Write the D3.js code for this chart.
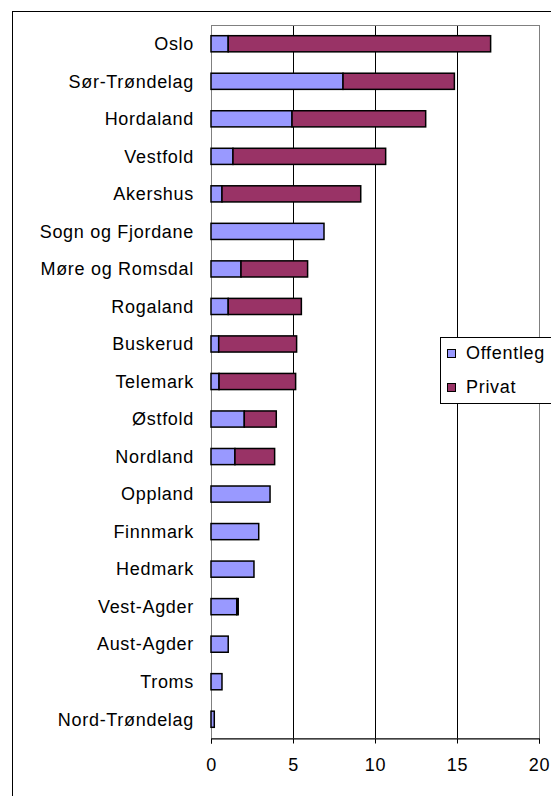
<!DOCTYPE html>
<html>
<head>
<meta charset="utf-8">
<script src="https://cdn.jsdelivr.net/npm/d3@7"></script>
<style>
    body { margin: 0; background: #fff; }
    svg { display: block; font-family: "Liberation Sans", Arial, sans-serif; }
</style>
</head>
<body>
<svg id="chart"></svg>
<script>
const counties = ["Oslo", "Sør-Trøndelag", "Hordaland", "Vestfold", "Akershus", "Sogn og Fjordane",
    "Møre og Romsdal", "Rogaland", "Buskerud", "Telemark", "Østfold", "Nordland", "Oppland",
    "Finnmark", "Hedmark", "Vest-Agder", "Aust-Agder", "Troms", "Nord-Trøndelag"];
const offentleg = [1.05, 8.05, 4.94, 1.34, 0.67, 6.89, 1.83, 1.05, 0.47, 0.49, 2.03, 1.46, 3.6,
    2.91, 2.62, 1.57, 1.05, 0.67, 0.2];
const privat = [16.0, 6.79, 8.15, 9.31, 8.46, 0, 4.06, 4.46, 4.75, 4.67, 1.95, 2.42, 0,
    0, 0, 0.09, 0, 0, 0];
const xTicks = [0, 5, 10, 15, 20];
const seriesNames = ["Offentleg", "Privat"];
const colors = { Offentleg: "#9999ff", Privat: "#993366" };

const width = 551, height = 796;
const plot = { left: 211, right: 539, top: 25, bottom: 738 };
const fontSize = 18, spacing = "0.7px";

const svg = d3.select("#chart").attr("width", width).attr("height", height);

// outer frame (runs off right and bottom like the original)
svg.append("rect")
    .attr("x", 12.5).attr("y", 11.5)
    .attr("width", width).attr("height", height)
    .attr("fill", "#fff").attr("stroke", "#000");

const x = d3.scaleLinear().domain([0, 20]).range([plot.left, plot.right]);
const y = d3.scaleBand().domain(counties).range([plot.top, plot.bottom]).paddingInner(0.57).paddingOuter(0.285);

// gridlines
svg.append("g").selectAll("line")
    .data(xTicks.slice(1, -1))
    .join("line")
    .attr("x1", d => Math.round(x(d)) + 0.5).attr("x2", d => Math.round(x(d)) + 0.5)
    .attr("y1", plot.top).attr("y2", plot.bottom)
    .attr("stroke", "#000");

// plot border
svg.append("rect")
    .attr("x", plot.left + 0.5).attr("y", plot.top + 0.5)
    .attr("width", plot.right - plot.left).attr("height", plot.bottom - plot.top)
    .attr("fill", "none").attr("stroke", "#808080");

const stackData = counties.map((c, i) => ({ county: c, Offentleg: offentleg[i], Privat: privat[i] }));
const stacked = d3.stack().keys(seriesNames)(stackData);

svg.append("g").selectAll("g")
    .data(stacked)
    .join("g")
    .attr("fill", d => colors[d.key])
    .selectAll("rect")
    .data(d => d.filter(s => s[1] - s[0] > 0))
    .join("rect")
    .attr("x", d => x(d[0]))
    .attr("y", d => y(d.data.county))
    .attr("width", d => x(d[1]) - x(d[0]))
    .attr("height", y.bandwidth())
    .attr("stroke", "#000")
    .attr("stroke-width", 1.5);

// x axis
const xAxis = svg.append("g")
    .attr("transform", `translate(0,${plot.bottom + 0.5})`)
    .call(d3.axisBottom(x).tickValues(xTicks).tickSize(5).tickPadding(15))
    .call(g => g.select(".domain").attr("stroke", "#000"));
xAxis.selectAll("line").attr("stroke", "#000");
xAxis.selectAll("text").attr("font-size", fontSize).attr("fill", "#000")
    .attr("font-family", "Liberation Sans, Arial, sans-serif")
    .style("letter-spacing", spacing);

// category labels
svg.append("g").selectAll("text")
    .data(counties)
    .join("text")
    .attr("x", 194)
    .attr("y", d => y(d) + y.bandwidth() / 2)
    .attr("dy", "0.35em")
    .attr("text-anchor", "end")
    .attr("font-size", fontSize)
    .style("letter-spacing", spacing)
    .text(d => d);

// legend
const legend = svg.append("g").attr("transform", "translate(440,337)");
legend.append("rect")
    .attr("x", 0.5).attr("y", 0.5)
    .attr("width", 130).attr("height", 66)
    .attr("fill", "#fff").attr("stroke", "#000");
const items = legend.selectAll(".item")
    .data(seriesNames)
    .join("g")
    .attr("class", "item")
    .attr("transform", (d, i) => `translate(7,${16 + i * 34})`);
items.append("rect")
    .attr("x", 0.5).attr("y", -3.5)
    .attr("width", 8).attr("height", 8)
    .attr("fill", d => colors[d])
    .attr("stroke", "#000");
items.append("text")
    .attr("x", 19).attr("dy", "0.35em")
    .attr("font-size", fontSize)
    .style("letter-spacing", spacing)
    .text(d => d);
</script>
</body>
</html>
